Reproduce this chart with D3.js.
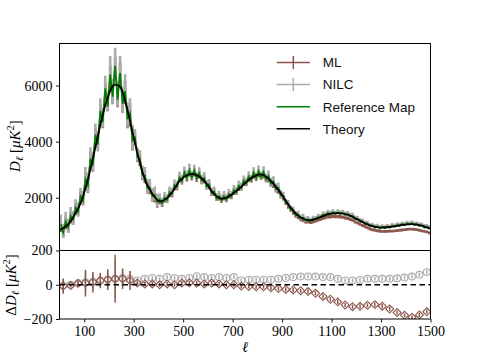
<!DOCTYPE html>
<html>
<head>
<meta charset="utf-8">
<script src="https://cdn.jsdelivr.net/npm/d3@7"></script>
<style>
  body { margin: 0; background: #fff; }
  svg { display: block; }
</style>
</head>
<body>
<div id="chart"></div>
<script>
// multipole grid of the top panel
const ell = [
  5,15,25,35,45,55,65,75,85,95,
  105,115,125,135,145,155,165,175,185,195,
  205,215,225,235,245,255,265,275,285,295,
  305,315,325,335,345,355,365,375,385,395,
  405,415,425,435,445,455,465,475,485,495,
  505,515,525,535,545,555,565,575,585,595,
  605,615,625,635,645,655,665,675,685,695,
  705,715,725,735,745,755,765,775,785,795,
  805,815,825,835,845,855,865,875,885,895,
  905,915,925,935,945,955,965,975,985,995,
  1005,1015,1025,1035,1045,1055,1065,1075,1085,1095,
  1105,1115,1125,1135,1145,1155,1165,1175,1185,1195,
  1205,1215,1225,1235,1245,1255,1265,1275,1285,1295,
  1305,1315,1325,1335,1345,1355,1365,1375,1385,1395,
  1405,1415,1425,1435,1445,1455,1465,1475,1485,1495
];

const refMap = [
  1050,760,1150,950,1350,1220,1650,1500,2050,1900,
  2650,2450,3400,3150,4250,3900,5100,4700,5900,5250,
  6400,5600,6700,5500,6450,5350,5800,4800,5000,4050,
  4150,3450,3400,2820,2800,2350,2380,2050,2100,1850,
  1940,1800,2000,1920,2200,2130,2450,2380,2720,2580,
  2900,2700,2980,2720,2970,2680,2870,2600,2700,2400,
  2480,2160,2220,1970,2060,1910,2050,1930,2130,2040,
  2270,2190,2430,2340,2610,2500,2760,2620,2900,2700,
  2950,2720,2920,2650,2770,2500,2570,2300,2340,2070,
  2070,1800,1780,1570,1550,1370,1400,1250,1290,1180,
  1230,1160,1240,1220,1310,1290,1390,1360,1450,1400,
  1480,1420,1480,1420,1460,1380,1420,1330,1350,1240,
  1250,1150,1160,1060,1080,990,1010,930,970,910,
  955,910,970,930,1000,960,1030,990,1060,1020,
  1080,1040,1090,1020,1060,990,1010,930,950,880
];

const nilc = [
  1150,820,1250,1000,1420,1280,1700,1580,2100,2000,
  2750,2550,3450,3300,4300,4000,5200,4850,6000,5450,
  6600,5800,6900,5700,6600,5500,5950,4950,5100,4150,
  4200,3550,3450,2900,2850,2420,2430,2100,2150,1900,
  2000,1850,2050,1980,2250,2200,2500,2450,2780,2650,
  2950,2800,3050,2800,3020,2760,2930,2660,2760,2460,
  2530,2220,2260,2030,2110,1970,2100,1990,2170,2100,
  2310,2250,2470,2400,2650,2560,2800,2680,2950,2760,
  3000,2790,2970,2720,2820,2560,2620,2360,2390,2130,
  2110,1860,1820,1620,1590,1420,1440,1300,1330,1230,
  1270,1210,1280,1270,1350,1340,1430,1420,1490,1460,
  1520,1470,1520,1480,1500,1440,1460,1390,1390,1300,
  1290,1210,1200,1120,1120,1040,1050,990,1010,970,
  995,970,1010,990,1040,1020,1070,1050,1100,1080,
  1120,1100,1130,1090,1100,1060,1060,1010,1010,970
];

const ml = [
  1000,800,1100,980,1300,1250,1600,1560,2000,1950,
  2600,2500,3300,3250,4150,4050,5000,4800,5800,5400,
  6300,5750,6600,5650,6400,5450,5750,4900,4950,4100,
  4100,3500,3350,2850,2750,2380,2350,2080,2060,1870,
  1900,1800,1960,1940,2150,2150,2400,2400,2680,2600,
  2850,2720,2900,2750,2900,2700,2820,2620,2650,2430,
  2420,2180,2180,2000,2020,1930,2020,1960,2080,2070,
  2220,2220,2360,2380,2540,2530,2680,2650,2800,2720,
  2850,2760,2820,2680,2670,2520,2480,2320,2260,2100,
  1990,1830,1700,1590,1480,1380,1320,1250,1220,1170,
  1150,1130,1150,1180,1210,1240,1280,1300,1330,1330,
  1340,1330,1330,1320,1310,1280,1270,1230,1200,1140,
  1100,1060,1010,970,930,890,860,840,820,810,
  800,800,800,810,810,820,830,840,850,860,
  870,880,880,870,860,840,820,800,780,750
];

// error bar size per block of 100 multipoles
const nilcErr100 = [250,350,450,250,150,160,140,140,150,100,80,70,60,55,55];
const mlErr100 = [220,320,420,230,130,140,120,120,130,90,70,60,55,50,50];

const theoryEll = [2,30,55,85,110,135,160,190,215,225,245,270,300,325,350,380,405,430,460,485,
  515,540,570,595,620,650,675,700,730,760,790,815,840,870,900,930,960,985,1013,1050,
  1090,1130,1170,1210,1250,1290,1330,1375,1420,1460,1500];
const theory = [860,1010,1300,1800,2500,3400,4400,5450,5980,6030,5950,5300,4150,3250,2550,2080,1870,1950,2250,2600,
  2800,2850,2730,2500,2180,1980,2000,2140,2350,2600,2780,2830,2720,2450,2100,1700,1400,1250,1190,1290,
  1420,1450,1380,1200,1030,940,950,1010,1060,1010,900];

// binned residuals (bottom panel)
const binEll = [15,45,75,105,135,165,195,225,255,285,315,345,375,405,435,465,495,525,555,585,
  615,645,675,705,735,765,795,825,855,885,915,945,975,1005,1035,1065,1095,1125,1155,1185,
  1215,1245,1275,1305,1335,1365,1395,1425,1455,1485];
const dMl = [-8,-5,8,10,15,25,30,35,35,25,10,5,5,0,5,0,10,12,10,5,
  10,5,0,0,-8,-10,-12,-12,-18,-22,-28,-30,-35,-40,-50,-68,-85,-100,-118,-128,
  -126,-120,-116,-125,-142,-162,-178,-190,-176,-158];
const dMlErr = [45,10,15,78,60,45,60,140,60,55,14,12,12,12,12,12,12,12,12,12,
  12,12,12,12,12,12,12,12,12,12,12,12,12,12,12,12,12,12,12,12,
  12,12,12,12,12,12,12,12,12,12];
const dNilc = [-5,0,10,15,20,25,30,35,40,35,25,35,40,35,45,40,35,40,50,45,
  40,45,40,45,25,30,30,30,30,35,40,45,48,48,48,45,45,35,25,25,
  28,35,35,35,35,38,42,48,58,74];
const dNilcErr = [40,10,12,60,50,40,50,110,50,45,12,12,12,12,12,12,12,12,12,12,
  12,12,12,12,12,12,12,12,12,12,12,12,12,12,12,12,12,12,12,12,
  12,12,12,12,12,12,12,12,12,12];

const xTicks = [100,300,500,700,900,1100,1300,1500];
const yTicksTop = [2000,4000,6000];
const yTicksBot = [-200,0,200];
const legendLabels = ["ML","NILC","Reference Map","Theory"];

const W = 478, H = 359;
const left = 59.5, right = 430.5, topY = 43.5, midY = 250.5, botY = 319;
const cML = "#8c564b", cNILC = "#ababab", cRef = "#008000", cTh = "#000000";
const serif = "'Liberation Serif','DejaVu Serif',serif";
const sans = "'Liberation Sans','DejaVu Sans',sans-serif";

const x = d3.scaleLinear().domain([0, 1500]).range([left, right]);
const yTop = d3.scaleLinear().domain([118, 7500]).range([midY, topY]);
const yBot = d3.scaleLinear().domain([-200, 200]).range([botY, midY]);

const svg = d3.select("#chart").append("svg").attr("width", W).attr("height", H);
const defs = svg.append("defs");
defs.append("clipPath").attr("id", "clipTop").append("rect")
  .attr("x", left).attr("y", topY).attr("width", right - left).attr("height", midY - topY);
defs.append("clipPath").attr("id", "clipBot").append("rect")
  .attr("x", left).attr("y", midY).attr("width", right - left).attr("height", botY - midY);

// ---- top panel
const gTop = svg.append("g").attr("clip-path", "url(#clipTop)");
const blk = l => Math.min(14, Math.floor(l / 100));

function series(vals, errs, color) {
  const g = gTop.append("g");
  g.selectAll("line").data(ell).join("line")
    .attr("x1", d => x(d)).attr("x2", d => x(d))
    .attr("y1", (d, i) => yTop(vals[i] - errs[blk(d)]))
    .attr("y2", (d, i) => yTop(vals[i] + errs[blk(d)]))
    .attr("stroke", color).attr("stroke-width", 2.6);
  g.append("path").datum(ell)
    .attr("d", d3.line().x(d => x(d)).y((d, i) => yTop(vals[i])))
    .attr("fill", "none").attr("stroke", color).attr("stroke-width", 1.5);
}
series(ml, mlErr100, cML);
series(nilc, nilcErr100, cNILC);

gTop.append("path").datum(ell)
  .attr("d", d3.line().x(d => x(d)).y((d, i) => yTop(refMap[i])))
  .attr("fill", "none").attr("stroke", cRef).attr("stroke-width", 1.7);

gTop.append("path").datum(theoryEll)
  .attr("d", d3.line().curve(d3.curveCatmullRom).x(d => x(d)).y((d, i) => yTop(theory[i])))
  .attr("fill", "none").attr("stroke", cTh).attr("stroke-width", 1.8);

// legend
const leg = svg.append("g");
legendLabels.forEach((lab, i) => {
  const yy = 62.5 + i * 22.1;
  const col = [cML, cNILC, cRef, cTh][i];
  leg.append("line").attr("x1", 276.7).attr("x2", 310).attr("y1", yy).attr("y2", yy)
    .attr("stroke", col).attr("stroke-width", 1.5);
  if (i < 2) {
    leg.append("line").attr("x1", 293.3).attr("x2", 293.3).attr("y1", yy - 6.5).attr("y2", yy + 6.5)
      .attr("stroke", col).attr("stroke-width", 1.5);
  }
  leg.append("text").attr("x", 322.7).attr("y", yy).attr("dy", "0.36em")
    .attr("font-family", sans).attr("font-size", 13.5).attr("fill", "#111").text(lab);
});

// ---- bottom panel
const gBot = svg.append("g").attr("clip-path", "url(#clipBot)");

const gN = gBot.append("g");
gN.selectAll("line").data(binEll).join("line")
  .attr("x1", d => x(d)).attr("x2", d => x(d))
  .attr("y1", (d, i) => yBot(dNilc[i] - dNilcErr[i]))
  .attr("y2", (d, i) => yBot(dNilc[i] + dNilcErr[i]))
  .attr("stroke", cNILC).attr("stroke-width", 1.5);
gN.selectAll("circle").data(binEll).join("circle")
  .attr("cx", d => x(d)).attr("cy", (d, i) => yBot(dNilc[i])).attr("r", 3.4)
  .attr("fill", "none").attr("stroke", cNILC).attr("stroke-width", 1.1);

const gM = gBot.append("g");
gM.selectAll("line").data(binEll).join("line")
  .attr("x1", d => x(d)).attr("x2", d => x(d))
  .attr("y1", (d, i) => yBot(dMl[i] - dMlErr[i]))
  .attr("y2", (d, i) => yBot(dMl[i] + dMlErr[i]))
  .attr("stroke", cML).attr("stroke-width", 1.5);
gM.selectAll("path").data(binEll).join("path")
  .attr("transform", (d, i) => `translate(${x(d)},${yBot(dMl[i])}) rotate(45)`)
  .attr("d", "M-2.8,-2.8H2.8V2.8H-2.8Z")
  .attr("fill", "none").attr("stroke", cML).attr("stroke-width", 1.1);

gBot.append("line").attr("x1", left).attr("x2", right)
  .attr("y1", yBot(0)).attr("y2", yBot(0))
  .attr("stroke", "#000").attr("stroke-width", 1.5).attr("stroke-dasharray", "5.5,3.5");

// ---- axes
function styleAxis(g) {
  g.select(".domain").remove();
  g.attr("font-family", serif).attr("font-size", 14);
  g.selectAll(".tick line").attr("stroke", "#000").attr("stroke-width", 0.9);
  g.selectAll(".tick text").attr("fill", "#000");
}
svg.append("g").attr("transform", `translate(${left},0)`)
  .call(d3.axisLeft(yTop).tickValues(yTicksTop).tickSize(3.5).tickPadding(3.5).tickFormat(d3.format("d")))
  .call(styleAxis);
svg.append("g").attr("transform", `translate(${left},0)`)
  .call(d3.axisLeft(yBot).tickValues(yTicksBot).tickSize(3.5).tickPadding(3.5).tickFormat(d3.format("d")))
  .call(styleAxis);
svg.append("g").attr("transform", `translate(0,${botY})`)
  .call(d3.axisBottom(x).tickValues(xTicks).tickSize(3.5).tickPadding(3.5).tickFormat(d3.format("d")))
  .call(styleAxis);

// frames
[[topY, midY], [midY, botY]].forEach(([a, b]) => {
  svg.append("rect").attr("x", left).attr("y", a).attr("width", right - left).attr("height", b - a)
    .attr("fill", "none").attr("stroke", "#000").attr("stroke-width", 1);
});

// axis labels
const yl1 = svg.append("text").attr("transform", "translate(20,146) rotate(-90)")
  .attr("text-anchor", "middle").attr("font-family", serif).attr("font-size", 15);
yl1.append("tspan").attr("font-style", "italic").text("D");
yl1.append("tspan").attr("font-style", "italic").attr("font-size", 10.5).attr("dy", 3).text("ℓ");
yl1.append("tspan").attr("dy", -3).text(" [");
yl1.append("tspan").attr("font-style", "italic").text("μK");
yl1.append("tspan").attr("font-size", 10.5).attr("dy", -6).text("2");
yl1.append("tspan").attr("dy", 6).text("]");

const yl2 = svg.append("text").attr("transform", "translate(16,285) rotate(-90)")
  .attr("text-anchor", "middle").attr("font-family", serif).attr("font-size", 15);
yl2.append("tspan").text("Δ");
yl2.append("tspan").attr("font-style", "italic").text("D");
yl2.append("tspan").attr("font-style", "italic").attr("font-size", 10.5).attr("dy", 3).text("ℓ");
yl2.append("tspan").attr("dy", -3).text(" [");
yl2.append("tspan").attr("font-style", "italic").text("μK");
yl2.append("tspan").attr("font-size", 10.5).attr("dy", -6).text("2");
yl2.append("tspan").attr("dy", 6).text("]");

svg.append("text").attr("x", 245).attr("y", 352).attr("text-anchor", "middle")
  .attr("font-family", serif).attr("font-style", "italic").attr("font-size", 15).text("ℓ");
</script>
</body>
</html>
